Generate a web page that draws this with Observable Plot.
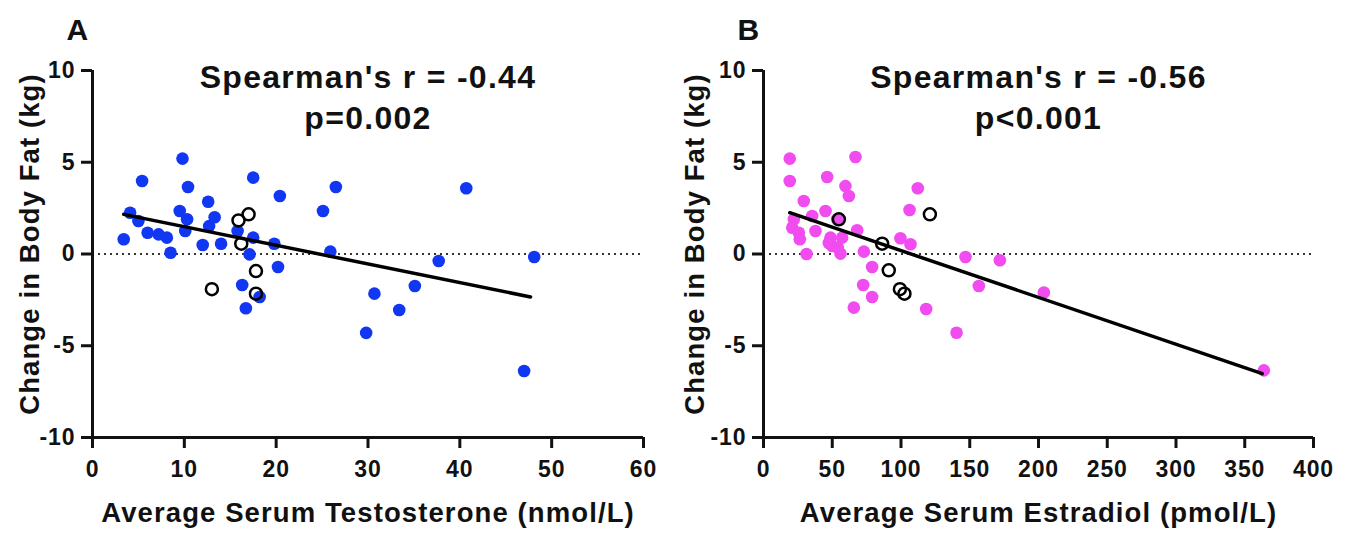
<!DOCTYPE html>
<html><head><meta charset="utf-8">
<script src="https://cdn.jsdelivr.net/npm/d3@7"></script>
<script src="https://cdn.jsdelivr.net/npm/@observablehq/plot@0.6"></script>
<style>
body{margin:0;background:#fff;}
#wrap{display:flex;width:1353px;height:537px;}
#wrap svg text{letter-spacing:0.04em;}
</style></head>
<body><div id="wrap"></div>
<script>
// Panel A: testosterone (nmol/L) vs change in body fat (kg)
const testoFilledX = [3.4,4.1,5.0,5.4,6.0,7.2,8.1,8.5,9.5,9.8,10.1,10.3,10.4,12.0,12.6,12.7,13.3,14.0,15.8,16.3,16.7,17.1,17.5,17.5,18.2,19.8,20.2,20.4,25.1,25.9,26.5,29.8,30.7,33.4,35.1,37.7,40.7,47.0,48.1];
const testoFilledY = [0.8,2.25,1.8,3.98,1.16,1.07,0.89,0.07,2.34,5.2,1.25,1.89,3.65,0.49,2.85,1.52,2.0,0.56,1.25,-1.69,-2.96,-0.02,0.89,4.16,-2.34,0.56,-0.71,3.16,2.34,0.13,3.65,-4.3,-2.16,-3.05,-1.74,-0.38,3.58,-6.38,-0.16];
const testoOpenX = [13.0,15.9,16.2,17.0,17.8,17.8];
const testoOpenY = [-1.92,1.83,0.56,2.16,-0.93,-2.16];
const testoFitX = [3.4,47.7];
const testoFitY = [2.16,-2.34];

// Panel B: estradiol (pmol/L) vs change in body fat (kg)
const estraFilledX = [19.1,66.9,19.1,46.3,59.6,62.1,112.2,29.3,106.2,45.1,35.4,22.1,53.6,20.9,25.7,37.8,26.4,48.7,57.2,68.1,50.0,31.3,56.0,73.0,99.6,106.9,79.0,72.5,79.0,65.7,118.3,140.4,146.9,171.9,156.6,203.9,363.9,47.5,54.0];
const estraFilledY = [5.2,5.29,3.98,4.2,3.7,3.16,3.58,2.89,2.4,2.34,2.07,1.89,1.89,1.43,1.16,1.25,0.8,0.89,0.89,1.29,0.44,0.0,0.02,0.13,0.86,0.53,-0.71,-1.69,-2.34,-2.92,-3.0,-4.29,-0.16,-0.34,-1.74,-2.1,-6.34,0.6,0.35];
const estraOpenX = [54.8,86.3,121,91.1,99.2,102.5];
const estraOpenY = [1.89,0.56,2.16,-0.89,-1.92,-2.16];
const estraFitX = [19.1,362.7];
const estraFitY = [2.25,-6.52];

const yTicks = [-10,-5,0,5,10];
const testoTicks = [0,10,20,30,40,50,60];
const estraTicks = [0,50,100,150,200,250,300,350,400];
const yLabel = "Change in Body Fat (kg)";

const zip = (xs, ys) => xs.map((x, i) => ({x, y: ys[i]}));

function panel({letter, filled, open, fit, xDomain, xTicks, xLabel, color, r, p, width, ml, mr, yLabelDx}) {
  return Plot.plot({
    width, height: 537,
    marginLeft: ml, marginRight: mr, marginTop: 70, marginBottom: 100,
    style: {fontFamily: "Liberation Sans, Arial, sans-serif", fontSize: "23px", fontWeight: "bold", color: "#111", background: "#fff", overflow: "visible"},
    x: {domain: xDomain, ticks: xTicks},
    y: {domain: [-10, 10], ticks: yTicks},
    marks: [
      Plot.ruleY([0], {stroke: "#333", strokeWidth: 2.2, strokeDasharray: "2,4"}),
      Plot.axisX({ticks: xTicks, tickSize: 11, tickPadding: 12, strokeWidth: 3, fontSize: 23, label: null, tickFormat: d => d}),
      Plot.axisY({ticks: yTicks, tickSize: 11, tickPadding: 6, strokeWidth: 3, fontSize: 23, label: null, tickFormat: d => d}),
      Plot.ruleX([xDomain[0]], {strokeWidth: 3}),
      Plot.ruleY([-10], {strokeWidth: 3}),
      Plot.dot(filled, {x: "x", y: "y", r: 6.3, fill: color, stroke: "none"}),
      Plot.dot(open, {x: "x", y: "y", r: 6, fill: "none", stroke: "#000", strokeWidth: 2.5}),
      Plot.line(fit, {x: "x", y: "y", stroke: "#000", strokeWidth: 3.5}),
      Plot.text([xLabel], {frameAnchor: "bottom", lineAnchor: "middle", dy: 76, fontSize: 27.5, fontWeight: "bold", fill: "#111"}),
      Plot.text([yLabel], {frameAnchor: "left", textAnchor: "middle", lineAnchor: "middle", rotate: -90, dx: yLabelDx, dy: -10, fontSize: 27.5, fontWeight: "bold", fill: "#111"}),
      Plot.text([`Spearman's r = ${r}`], {frameAnchor: "top", lineAnchor: "middle", dy: 7, fontSize: 32, fontWeight: "bold", fill: "#111"}),
      Plot.text([p], {frameAnchor: "top", lineAnchor: "middle", dy: 48, fontSize: 32, fontWeight: "bold", fill: "#111"}),
      Plot.text([letter], {frameAnchor: "top-left", lineAnchor: "middle", dx: -26, dy: -40, fontSize: 30, fontWeight: "bold", fill: "#111"})
    ]
  });
}

const wrap = document.getElementById("wrap");
wrap.append(panel({
  letter: "A", filled: zip(testoFilledX, testoFilledY), open: zip(testoOpenX, testoOpenY),
  fit: zip(testoFitX, testoFitY), xDomain: [0, 60], xTicks: testoTicks,
  xLabel: "Average Serum Testosterone (nmol/L)", color: "#1237f2", r: "-0.44", p: "p=0.002",
  width: 676, ml: 92, mr: 33, yLabelDx: -62
}));
wrap.append(panel({
  letter: "B", filled: zip(estraFilledX, estraFilledY), open: zip(estraOpenX, estraOpenY),
  fit: zip(estraFitX, estraFitY), xDomain: [0, 400], xTicks: estraTicks,
  xLabel: "Average Serum Estradiol (pmol/L)", color: "#f04cf0", r: "-0.56", p: "p<0.001",
  width: 677, ml: 87, mr: 40, yLabelDx: -68
}));
</script></body></html>
